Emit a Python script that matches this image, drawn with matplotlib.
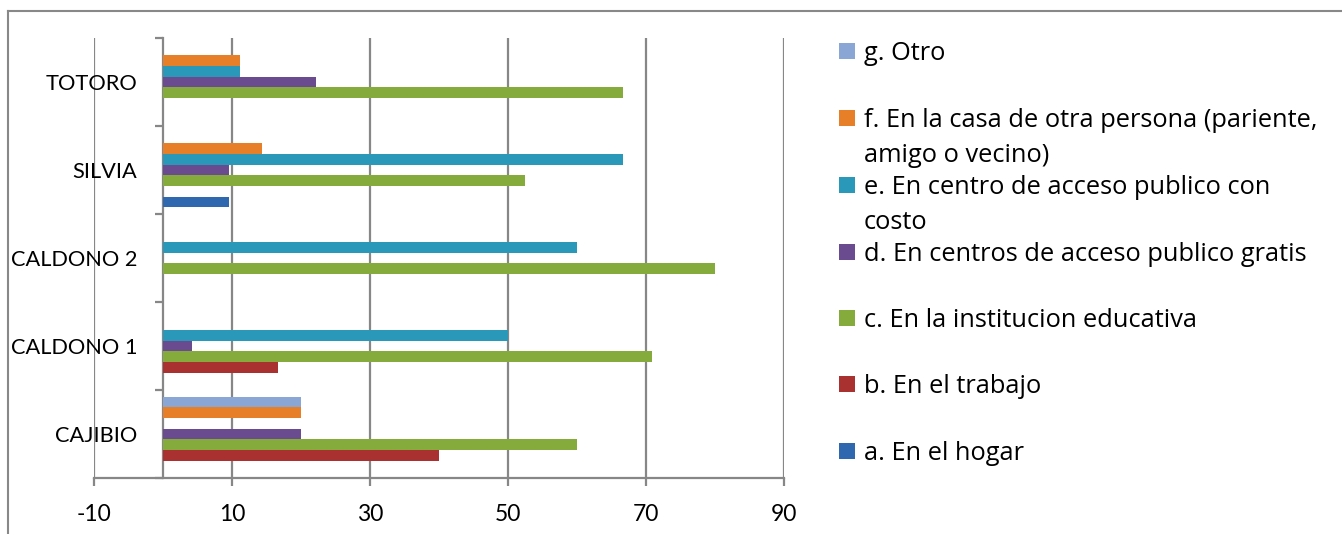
import matplotlib
matplotlib.use("Agg")
import matplotlib.pyplot as plt
from matplotlib.patches import Rectangle
from matplotlib.lines import Line2D
import numpy as np

plt.rcParams['font.family'] = ['Lato', 'DejaVu Sans']

categories = ["CAJIBIO", "CALDONO 1", "CALDONO 2", "SILVIA", "TOTORO"]
series_labels = [
    "a. En el hogar",
    "b. En el trabajo",
    "c. En la institucion educativa",
    "d. En centros de acceso publico gratis",
    "e. En centro de acceso publico con\ncosto",
    "f. En la casa de otra persona (pariente,\namigo o vecino)",
    "g. Otro",
]
a_hogar = [0, 0, 0, 9.5, 0]
b_trabajo = [40, 16.7, 0, 0, 0]
c_institucion = [60, 70.8, 80, 52.4, 66.7]
d_gratis = [20, 4.2, 0, 9.5, 22.2]
e_costo = [0, 50, 60, 66.7, 11.1]
f_otra_casa = [20, 0, 0, 14.3, 11.1]
g_otro = [20, 0, 0, 0, 0]
series_values = [a_hogar, b_trabajo, c_institucion, d_gratis, e_costo, f_otra_casa, g_otro]
colors = ["#2F68AE", "#A93231", "#86AB3D", "#6A4B8F", "#2A98B8", "#E67F27", "#8AA6D4"]
xticks = [-10, 10, 30, 50, 70, 90]

W, H = 1342, 534
fig = plt.figure(figsize=(W / 100, H / 100), dpi=100)
ax = fig.add_axes([94 / W, 1 - 478 / H, (784 - 94) / W, (478 - 38) / H])

n = len(series_values)
bh = 0.1216
y = np.arange(len(categories))
for j, vals in enumerate(series_values):
    ax.barh(y + (j - (n - 1) / 2) * bh, vals, height=bh, color=colors[j],
            edgecolor='none', zorder=3)

grid_c = "#878787"
ax.set_xlim(-10, 90)
ax.set_ylim(-0.5, len(categories) - 0.5)
ax.set_xticks(xticks)
ax.set_xticklabels([str(v) for v in xticks])
ax.grid(axis='x', color=grid_c, linewidth=1.6, zorder=0)
ax.set_axisbelow(True)

for s in ['top', 'right']:
    ax.spines[s].set_visible(False)
ax.spines['left'].set_position(('data', 0))
ax.spines['left'].set_color(grid_c)
ax.spines['left'].set_linewidth(1.6)
ax.spines['bottom'].set_color(grid_c)
ax.spines['bottom'].set_linewidth(1.6)

ax.set_yticks(np.arange(-0.5, len(categories), 1.0))
ax.set_yticklabels([])
ax.set_yticks(y, minor=True)
ax.set_yticklabels(categories, minor=True)
ax.tick_params(axis='y', which='major', length=6, width=1.6, color=grid_c, direction='out')
ax.tick_params(axis='y', which='minor', length=0, pad=18.5, labelsize=15.7)
ax.tick_params(axis='x', which='major', length=6, width=1.6, color=grid_c,
               direction='out', pad=13, labelsize=16.5)

# Legend (manual, Excel style: patch aligned to first line)
first_line_y = [451, 384, 318, 252, 185, 118, 51]
for j in range(n):
    yc = first_line_y[j]
    fig.add_artist(Rectangle((839 / W, 1 - (yc + 8) / H), 16 / W, 16 / H,
                             transform=fig.transFigure, facecolor=colors[j],
                             edgecolor='none'))
    fig.text(864 / W, 1 - (yc - 10) / H, series_labels[j], ha='left', va='top',
             fontsize=18.3, linespacing=1.55, color='black',
             family=['Open Sans', 'DejaVu Sans'])

# Chart area border
fig.add_artist(Line2D([8 / W, 1], [1 - 11 / H, 1 - 11 / H], transform=fig.transFigure,
                      color="#888888", linewidth=1.5))
fig.add_artist(Line2D([8 / W, 8 / W], [0, 1 - 11 / H], transform=fig.transFigure,
                      color="#888888", linewidth=1.5))

fig.savefig("out.png", dpi=100)
